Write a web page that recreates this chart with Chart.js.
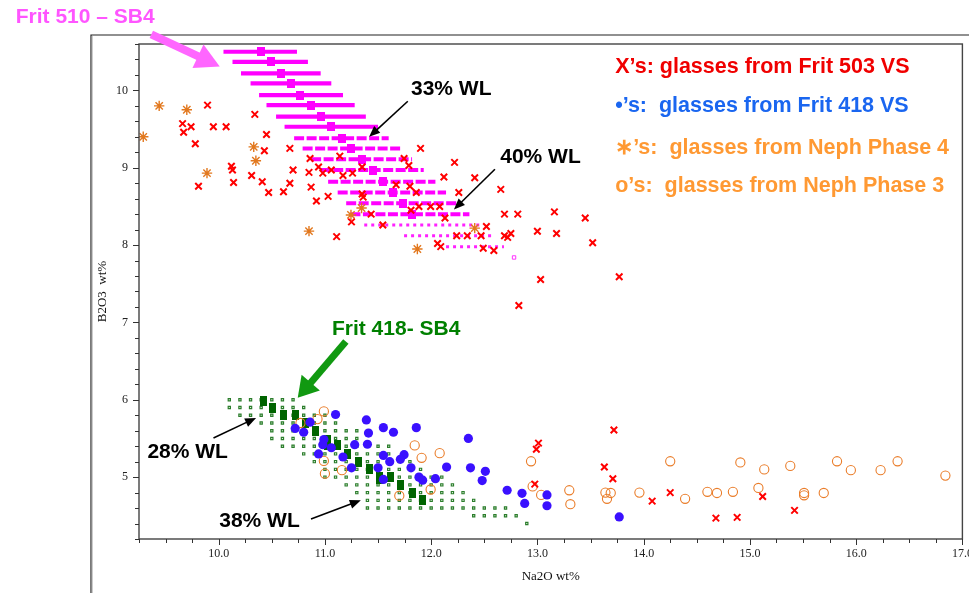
<!DOCTYPE html>
<html>
<head>
<meta charset="utf-8">
<script src="https://cdn.jsdelivr.net/npm/chart.js@4.4.1/dist/chart.umd.min.js"></script>
<style>
  html, body { margin: 0; padding: 0; background: #fff; }
  #wrap { width: 969px; height: 593px; position: relative; }
</style>
</head>
<body>
<div id="wrap"><canvas id="chart"></canvas></div>
<script>
// axis ranges and labelled ticks
const xRange = [9.25, 17.0];
const yRange = [4.2, 10.6];
const xMajorTicks = [10, 11, 12, 13, 14, 15, 16, 17];
const yMajorTicks = [5, 6, 7, 8, 9, 10];

// Frit 510 - SB4 bands: [B2O3, Na2O from, Na2O to]
const frit510Rows = [
  [10.50, 10.045, 10.737], [10.37, 10.13, 10.84], [10.22, 10.21, 10.96],
  [10.09, 10.30, 11.06], [9.94, 10.38, 11.17], [9.81, 10.45, 11.28],
  [9.66, 10.54, 11.385], [9.53, 10.62, 11.50], [9.38, 10.71, 11.60],
  [9.25, 10.79, 11.71], [9.11, 10.87, 11.82], [8.97, 10.96, 11.93],
  [8.82, 11.03, 12.04], [8.68, 11.12, 12.14], [8.54, 11.20, 12.255],
  [8.40, 11.24, 12.36], [8.26, 11.37, 12.47], [8.12, 11.745, 12.58],
  [7.98, 12.14, 12.685]
];
const frit510Centers = [
  [10.40, 10.50], [10.49, 10.37], [10.59, 10.22], [10.68, 10.09],
  [10.77, 9.94], [10.87, 9.81], [10.96, 9.66], [11.06, 9.53],
  [11.16, 9.38], [11.25, 9.25], [11.35, 9.11], [11.45, 8.97],
  [11.545, 8.82], [11.64, 8.68], [11.735, 8.54], [11.82, 8.40]
];
const frit510Extra = [[12.78, 7.84]];

// Frit 418 - SB4 grid rows: [B2O3, Na2O from, Na2O to]
const frit418Rows = [
  [6.0, 10.1, 10.7], [5.9, 10.1, 10.8], [5.8, 10.2, 11.1], [5.7, 10.4, 11.1],
  [5.6, 10.5, 11.3], [5.5, 10.5, 11.3], [5.4, 10.6, 11.6], [5.3, 10.8, 11.6],
  [5.2, 10.9, 11.8], [5.1, 11.0, 11.9], [5.0, 11.0, 12.1], [4.9, 11.2, 12.2],
  [4.8, 11.3, 12.3], [4.7, 11.4, 12.4], [4.6, 11.4, 12.7], [4.5, 12.4, 12.8],
  [4.4, 12.9, 12.9]
];
const frit418Centers = [
  [10.42, 5.99], [10.51, 5.90], [10.61, 5.80], [10.72, 5.80], [10.815, 5.70],
  [10.915, 5.59], [11.02, 5.485], [11.02, 5.42], [11.115, 5.41], [11.21, 5.30],
  [11.315, 5.20], [11.415, 5.10], [11.51, 4.98], [11.51, 5.00], [11.62, 5.00],
  [11.71, 4.90], [11.82, 4.80], [11.92, 4.70]
];

// measured glasses: [Na2O, B2O3]
const frit503Glasses = [
  [9.895, 9.81], [10.34, 9.69], [9.66, 9.57], [9.74, 9.53], [9.67, 9.46], [9.95, 9.53],
  [10.07, 9.53], [9.78, 9.31], [10.45, 9.43], [10.43, 9.22], [10.67, 9.25], [10.12, 9.02],
  [10.13, 8.97], [10.31, 8.90], [10.14, 8.81], [10.41, 8.82], [9.81, 8.76], [10.47, 8.68],
  [10.61, 8.69], [10.67, 8.80], [10.70, 8.97], [10.85, 8.94], [10.87, 8.75], [10.86, 9.12],
  [11.14, 9.15], [10.94, 9.01], [10.98, 8.93], [11.06, 8.97], [11.17, 8.90], [11.26, 8.93],
  [10.92, 8.57], [11.03, 8.63], [11.11, 8.11], [11.35, 8.66], [11.36, 8.62], [11.25, 8.30],
  [11.545, 8.26], [11.745, 9.12], [11.79, 9.03], [11.67, 8.78], [11.80, 8.76], [11.81, 8.45],
  [11.90, 9.25], [12.22, 9.07], [11.35, 9.01], [12.12, 8.88], [12.41, 8.87], [11.86, 8.68],
  [12.26, 8.68], [12.655, 8.72], [11.885, 8.50], [11.995, 8.50], [12.08, 8.50], [12.13, 8.35],
  [11.435, 8.40], [12.69, 8.40], [12.815, 8.40], [13.16, 8.43], [13.45, 8.35], [12.52, 8.24],
  [12.24, 8.12], [12.34, 8.12], [12.47, 8.12], [12.69, 8.12], [12.72, 8.10], [12.75, 8.15],
  [13.00, 8.18], [13.18, 8.15], [13.52, 8.03], [12.06, 8.02], [12.09, 7.98], [12.49, 7.96],
  [12.59, 7.93], [13.03, 7.555], [12.825, 7.22], [13.77, 7.59],
  [13.01, 5.44], [12.99, 5.36], [12.975, 4.91], [13.72, 5.61], [13.63, 5.13], [13.71, 4.98],
  [14.08, 4.69], [14.25, 4.80], [14.68, 4.47], [14.88, 4.48], [15.12, 4.75], [15.42, 4.57]
];
const frit418Glasses = [
  [11.10, 5.81], [10.72, 5.63], [10.80, 5.58], [10.86, 5.71], [10.99, 5.485], [10.98, 5.42],
  [11.06, 5.38], [10.94, 5.30], [11.17, 5.26], [11.25, 5.12], [11.28, 5.42], [11.39, 5.74],
  [11.41, 5.57], [11.40, 5.425], [11.55, 5.64], [11.55, 4.97], [11.50, 5.12], [11.645, 5.58],
  [11.86, 5.64], [12.35, 5.50], [11.55, 5.28], [11.745, 5.29], [11.71, 5.23], [11.61, 5.20],
  [11.81, 5.12], [12.145, 5.13], [12.37, 5.12], [12.51, 5.075], [12.48, 4.955], [11.885, 5.00],
  [11.92, 4.96], [12.04, 4.98], [12.715, 4.83], [12.855, 4.79], [12.88, 4.66], [13.09, 4.77],
  [13.09, 4.63], [13.77, 4.485]
];
const neph4Glasses = [
  [9.29, 9.40], [9.44, 9.80], [9.70, 9.75], [9.89, 8.93], [10.33, 9.27], [10.35, 9.09],
  [10.85, 8.18], [11.345, 8.48], [11.245, 8.39], [11.87, 7.95], [12.41, 8.22]
];
const neph3Glasses = [
  [10.99, 5.85], [10.93, 5.75], [10.77, 5.70], [10.99, 5.21], [11.00, 5.045], [11.16, 5.09],
  [11.845, 5.41], [11.91, 5.25], [12.08, 5.31], [11.70, 4.76], [11.995, 4.84], [12.94, 5.205],
  [12.955, 4.88], [13.035, 4.77], [13.30, 4.83], [13.31, 4.65], [13.64, 4.80], [13.69, 4.795],
  [13.655, 4.72], [13.96, 4.80], [14.25, 5.205], [14.39, 4.72], [14.60, 4.81], [14.69, 4.795],
  [14.84, 4.81], [14.91, 5.19], [15.08, 4.86], [15.135, 5.10], [15.38, 5.145], [15.51, 4.795],
  [15.51, 4.765], [15.695, 4.795], [15.82, 5.205], [15.95, 5.09], [16.23, 5.09], [16.39, 5.205],
  [16.84, 5.02]
];

const legendLines = [
  { text: 'X’s: glasses from Frit 503 VS', color: '#f00000' },
  { text: '•’s:  glasses from Frit 418 VS', color: '#1a66f0' },
  { text: '∗’s:  glasses from Neph Phase 4', color: '#ff9933' },
  { text: 'o’s:  glasses from Neph Phase 3', color: '#ff9933' }
];

// callouts, placed in data units
const callouts = [
  { text: 'Frit 510 – SB4', at: [8.09, 10.944], color: '#ff55ff' },
  { text: '33% WL', at: [11.81, 10.02], color: '#000' },
  { text: '40% WL', at: [12.65, 9.133], color: '#000' },
  { text: 'Frit 418- SB4', at: [11.066, 6.908], color: '#008000' },
  { text: '28% WL', at: [9.329, 5.317], color: '#000' },
  { text: '38% WL', at: [10.005, 4.424], color: '#000' }
];
const arrows = [
  { from: [9.366, 10.724], to: [10.01, 10.31], color: '#ff66ff', width: 8, head: 24, spread: 26 },
  { from: [11.78, 9.86], to: [11.416, 9.40], color: '#000', width: 1.6, head: 11, spread: 9 },
  { from: [12.60, 8.98], to: [12.214, 8.46], color: '#000', width: 1.6, head: 11, spread: 9 },
  { from: [11.197, 6.753], to: [10.744, 6.025], color: '#119911', width: 7, head: 20, spread: 24 },
  { from: [9.951, 5.507], to: [10.352, 5.766], color: '#000', width: 1.6, head: 11, spread: 9 },
  { from: [10.869, 4.459], to: [11.338, 4.70], color: '#000', width: 1.6, head: 11, spread: 9 }
];

const toPoints = (list) => list.map(([x, y]) => ({ x, y }));
const isMajor = (value, majors) => majors.some((m) => Math.abs(m - value) < 1e-6);

// small filled block used as a point marker
function blockMarker(w, h, color) {
  const c = document.createElement('canvas');
  c.width = w;
  c.height = h;
  const g = c.getContext('2d');
  g.fillStyle = color;
  g.fillRect(0, 0, w, h);
  return c;
}

function latticeDash(ctx) {
  const scale = ctx.chart.scales && ctx.chart.scales.x;
  let period = 10.63;
  if (scale && scale.width > 0) period = Math.abs(scale.getPixelForValue(0.1) - scale.getPixelForValue(0));
  return [0.01, period - 0.01];
}

function rowDataset(row, style) {
  const [y, x1, x2] = row;
  return Object.assign({
    data: [{ x: x1, y }, { x: x2, y }],
    showLine: true,
    pointRadius: 0,
    pointHoverRadius: 0
  }, style);
}

const datasets = [
  {
    label: 'Frit 503 VS',
    data: toPoints(frit503Glasses),
    pointStyle: 'crossRot',
    pointRadius: 4.6,
    borderColor: '#ff0000',
    borderWidth: 2
  },
  {
    label: 'Frit 418 VS',
    data: toPoints(frit418Glasses),
    pointStyle: 'circle',
    pointRadius: 4.6,
    backgroundColor: '#3a10ff',
    borderColor: '#3a10ff',
    borderWidth: 0
  },
  {
    label: 'Neph Phase 3',
    data: toPoints(neph3Glasses),
    pointStyle: 'circle',
    pointRadius: 4.6,
    backgroundColor: 'rgba(0,0,0,0)',
    borderColor: '#ea7d2a',
    borderWidth: 1.1
  },
  {
    label: 'Neph Phase 4',
    data: toPoints(neph4Glasses),
    pointStyle: 'star',
    pointRadius: 5.2,
    borderColor: '#e2781e',
    borderWidth: 1.4
  },
  {
    label: 'Frit 418 SB4 centers',
    data: toPoints(frit418Centers),
    pointStyle: blockMarker(7, 10, '#006400'),
    pointRadius: 5
  }
];

frit418Rows.forEach((row) => {
  datasets.push(rowDataset(row, {
    borderColor: '#dcefdc', borderWidth: 1.1, borderCapStyle: 'square',
    borderDash: latticeDash, borderDashOffset: 0.005
  }));
});
frit418Rows.forEach((row) => {
  datasets.push(rowDataset(row, {
    borderColor: '#2b7d2b', borderWidth: 3.4, borderCapStyle: 'square',
    borderDash: latticeDash, borderDashOffset: 0.005
  }));
});

datasets.push({
  label: 'Frit 510 SB4 centers',
  data: toPoints(frit510Centers),
  pointStyle: blockMarker(8, 9, '#ff00ff'),
  pointRadius: 5
});
datasets.push({
  label: 'Frit 510 SB4 extra',
  data: toPoints(frit510Extra),
  pointStyle: 'rect',
  pointRadius: 2.4,
  backgroundColor: '#fff',
  borderColor: '#ff33ff',
  borderWidth: 1
});
frit510Rows.forEach((row, i) => {
  let style = { borderColor: '#ff00ff', borderWidth: 4.2 };
  if (i >= 16) style = { borderColor: '#ff22ff', borderWidth: 3, borderDash: [3, 4] };
  else if (i >= 8) style = { borderColor: '#ff00ff', borderWidth: 4, borderDash: [10, 2.5] };
  datasets.push(rowDataset(row, style));
});

function drawArrow(ctx, x1, y1, x2, y2, color, width, head, spread) {
  const ang = Math.atan2(y2 - y1, x2 - x1);
  const bx = x2 - head * Math.cos(ang);
  const by = y2 - head * Math.sin(ang);
  ctx.save();
  ctx.strokeStyle = color;
  ctx.fillStyle = color;
  ctx.lineWidth = width;
  ctx.beginPath();
  ctx.moveTo(x1, y1);
  ctx.lineTo(bx + Math.cos(ang), by + Math.sin(ang));
  ctx.stroke();
  ctx.beginPath();
  ctx.moveTo(x2, y2);
  ctx.lineTo(bx + (spread / 2) * Math.sin(ang), by - (spread / 2) * Math.cos(ang));
  ctx.lineTo(bx - (spread / 2) * Math.sin(ang), by + (spread / 2) * Math.cos(ang));
  ctx.closePath();
  ctx.fill();
  ctx.restore();
}

const decorations = {
  id: 'decorations',
  beforeDraw(chart) {
    const { ctx, chartArea: area } = chart;
    ctx.save();
    ctx.fillStyle = '#fff';
    ctx.fillRect(0, 0, chart.width, chart.height);
    // outer page frame
    ctx.strokeStyle = '#222';
    ctx.lineWidth = 1.2;
    ctx.beginPath();
    ctx.moveTo(area.left - 48, chart.height);
    ctx.lineTo(area.left - 48, area.top - 9);
    ctx.lineTo(chart.width, area.top - 9);
    ctx.stroke();
    ctx.strokeStyle = '#999';
    ctx.lineWidth = 1;
    ctx.beginPath();
    ctx.moveTo(area.left - 47, chart.height);
    ctx.lineTo(area.left - 47, area.top - 8);
    ctx.stroke();
    ctx.restore();
  },
  afterDraw(chart) {
    const { ctx, chartArea: area, scales } = chart;
    const px = (x) => scales.x.getPixelForValue(x);
    const py = (y) => scales.y.getPixelForValue(y);
    ctx.save();

    // plot frame
    ctx.strokeStyle = '#444';
    ctx.lineWidth = 1.4;
    ctx.strokeRect(area.left, area.top, area.right - area.left, area.bottom - area.top);

    // tick marks
    ctx.strokeStyle = '#333';
    ctx.lineWidth = 1;
    ctx.beginPath();
    scales.x.ticks.forEach((t) => {
      const x = Math.round(px(t.value)) + 0.5;
      const len = isMajor(t.value, xMajorTicks) ? 6 : 4;
      ctx.moveTo(x, area.bottom);
      ctx.lineTo(x, area.bottom + len);
    });
    scales.y.ticks.forEach((t) => {
      const y = Math.round(py(t.value)) + 0.5;
      const len = isMajor(t.value, yMajorTicks) ? 6 : 4;
      ctx.moveTo(area.left, y);
      ctx.lineTo(area.left - len, y);
    });
    ctx.stroke();

    // axis titles
    ctx.fillStyle = '#111';
    ctx.font = '13px "Liberation Serif", "Times New Roman", serif';
    ctx.textAlign = 'center';
    ctx.textBaseline = 'middle';
    ctx.fillText('Na2O wt%', (area.left + area.right) / 2, area.bottom + 38);
    ctx.save();
    ctx.translate(area.left - 36, (area.top + area.bottom) / 2);
    ctx.rotate(-Math.PI / 2);
    ctx.fillText('B2O3  wt%', 0, 0);
    ctx.restore();

    // arrows
    arrows.forEach((a) => {
      drawArrow(ctx, px(a.from[0]), py(a.from[1]), px(a.to[0]), py(a.to[1]), a.color, a.width, a.head, a.spread);
    });

    // callout labels
    ctx.textAlign = 'left';
    ctx.font = 'bold 21px "Liberation Sans", Arial, sans-serif';
    callouts.forEach((c) => {
      ctx.fillStyle = c.color;
      ctx.fillText(c.text, px(c.at[0]), py(c.at[1]));
    });

    // legend text block
    ctx.font = 'bold 21.5px "Liberation Sans", Arial, sans-serif';
    const legendX = px(13.732);
    const legendRows = [10.307, 9.797, 9.259, 8.763];
    legendLines.forEach((line, i) => {
      ctx.fillStyle = line.color;
      ctx.fillText(line.text, legendX, py(legendRows[i]));
    });
    ctx.restore();
  }
};

new Chart(document.getElementById('chart'), {
  type: 'scatter',
  data: { datasets },
  options: {
    responsive: true,
    maintainAspectRatio: false,
    animation: false,
    events: [],
    layout: { padding: { top: 44, right: 6, bottom: 0, left: 0 } },
    plugins: {
      legend: { display: false },
      tooltip: { enabled: false }
    },
    scales: {
      x: {
        type: 'linear',
        min: xRange[0],
        max: xRange[1],
        grid: { display: false, drawTicks: false },
        border: { display: false },
        ticks: {
          stepSize: 0.25,
          autoSkip: false,
          maxRotation: 0,
          padding: 8,
          color: '#222',
          font: { family: '"Liberation Serif", "Times New Roman", serif', size: 12 },
          callback: (v) => (isMajor(v, xMajorTicks) ? Number(v).toFixed(1) : '')
        },
        afterFit: (scale) => {
          scale.height = 54;
          scale.paddingLeft = 0;
          scale.paddingRight = 0;
        }
      },
      y: {
        type: 'linear',
        min: yRange[0],
        max: yRange[1],
        grid: { display: false, drawTicks: false },
        border: { display: false },
        ticks: {
          stepSize: 0.2,
          autoSkip: false,
          padding: 11,
          color: '#222',
          font: { family: '"Liberation Serif", "Times New Roman", serif', size: 12 },
          callback: (v) => (isMajor(v, yMajorTicks) ? String(Math.round(v)) : '')
        },
        afterFit: (scale) => {
          scale.width = 139;
          scale.paddingTop = 0;
          scale.paddingBottom = 0;
        }
      }
    }
  },
  plugins: [decorations]
});
</script>
</body>
</html>
